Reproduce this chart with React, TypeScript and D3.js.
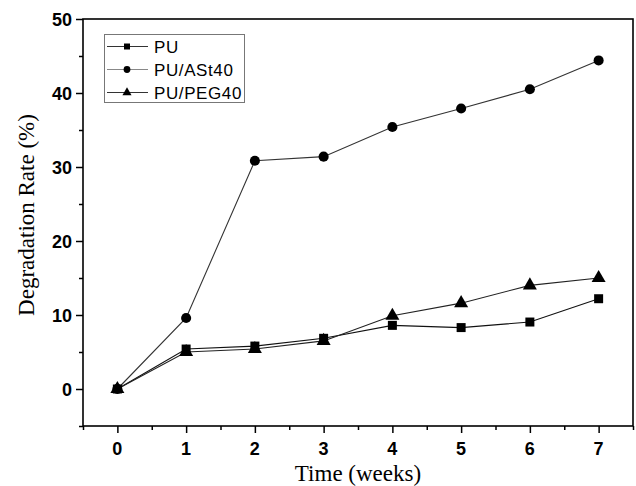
import React, { useEffect, useRef } from 'react';
import * as d3 from 'd3';

// data
const weeks = [0, 1, 2, 3, 4, 5, 6, 7];
const puValues = [0, 5.4, 5.8, 6.85, 8.6, 8.3, 9.05, 12.2];
const astValues = [0, 9.6, 30.85, 31.4, 35.4, 37.9, 40.5, 44.4];
const pegValues = [0, 5.0, 5.4, 6.5, 9.9, 11.6, 14.0, 15.0];
const seriesNames = ['PU', 'PU/ASt40', 'PU/PEG40'];
const xTicks = [0, 1, 2, 3, 4, 5, 6, 7];
const yTicks = [0, 10, 20, 30, 40, 50];

const width = 636;
const height = 486;

export default function App() {
  const svgRef = useRef<SVGSVGElement | null>(null);

  useEffect(() => {
    const svg = d3.select(svgRef.current);
    svg.selectAll('*').remove();

    const left = 83, right = 633, top = 19, bottom = 426;
    const x = d3.scaleLinear().domain([-0.5, 7.5]).range([left, right]);
    const y = d3.scaleLinear().domain([-5, 50]).range([bottom, top]);

    // frame
    svg.append('rect')
      .attr('x', left).attr('y', top)
      .attr('width', right - left).attr('height', bottom - top)
      .attr('fill', 'none').attr('stroke', '#000').attr('stroke-width', 1.6);

    // x axis ticks (major + minor)
    const xAxis = d3.axisBottom(x)
      .tickValues(d3.range(-0.5, 7.51, 0.5))
      .tickSize(0)
      .tickFormat(() => '');
    const gx = svg.append('g').attr('transform', `translate(0,${bottom})`).call(xAxis);
    gx.select('.domain').remove();
    gx.selectAll('.tick line')
      .attr('y2', (d: any) => (Number.isInteger(d) ? 7 : 4))
      .attr('stroke-width', 1.5);
    svg.append('g').selectAll('text').data(xTicks).join('text')
      .attr('x', d => x(d)).attr('y', 455)
      .attr('text-anchor', 'middle')
      .attr('font-family', 'Liberation Sans, Arial, sans-serif')
      .attr('font-weight', 'bold').attr('font-size', 18)
      .text(d => d);

    // y axis ticks (major + minor)
    const yAxis = d3.axisLeft(y)
      .tickValues(d3.range(-5, 50.1, 5))
      .tickSize(0)
      .tickFormat(() => '');
    const gy = svg.append('g').attr('transform', `translate(${left},0)`).call(yAxis);
    gy.select('.domain').remove();
    gy.selectAll('.tick line')
      .attr('x2', (d: any) => (d % 10 === 0 ? -7 : -4))
      .attr('stroke-width', 1.5);
    svg.append('g').selectAll('text').data(yTicks).join('text')
      .attr('x', 72).attr('y', d => y(d) + 6.5)
      .attr('text-anchor', 'end')
      .attr('font-family', 'Liberation Sans, Arial, sans-serif')
      .attr('font-weight', 'bold').attr('font-size', 18)
      .text(d => d);

    // titles
    svg.append('text')
      .attr('x', (left + right) / 2).attr('y', 481)
      .attr('text-anchor', 'middle')
      .attr('font-family', 'Liberation Serif, Times New Roman, serif')
      .attr('font-size', 23)
      .text('Time (weeks)');
    svg.append('text')
      .attr('transform', `translate(34,215) rotate(-90)`)
      .attr('text-anchor', 'middle')
      .attr('font-family', 'Liberation Serif, Times New Roman, serif')
      .attr('font-size', 23)
      .text('Degradation Rate (%)');

    const line = d3.line<number>()
      .x((_, i) => x(weeks[i]))
      .y(d => y(d));

    const allSeries = [
      { name: seriesNames[0], values: puValues, shape: d3.symbolSquare, size: 81, color: '#111' },
      { name: seriesNames[1], values: astValues, shape: d3.symbolCircle, size: 80, color: '#333' },
      { name: seriesNames[2], values: pegValues, shape: d3.symbolTriangle, size: 85, color: '#222' },
    ];

    allSeries.forEach(s => {
      svg.append('path')
        .attr('d', line(s.values))
        .attr('fill', 'none')
        .attr('stroke', s.color)
        .attr('stroke-width', 1.1);
    });
    allSeries.forEach(s => {
      svg.append('g').selectAll('path').data(s.values).join('path')
        .attr('transform', (d, i) => `translate(${x(weeks[i])},${y(d)})`)
        .attr('d', d3.symbol(s.shape, s.size)())
        .attr('fill', '#000');
    });

    // legend
    const lg = svg.append('g');
    lg.append('rect')
      .attr('x', 104.5).attr('y', 34.5).attr('width', 140).attr('height', 68)
      .attr('fill', '#fff').attr('stroke', '#777').attr('stroke-width', 1);
    allSeries.forEach((s, i) => {
      const ly = 46.5 + i * 23;
      lg.append('line')
        .attr('x1', 107).attr('x2', 148).attr('y1', ly).attr('y2', ly)
        .attr('stroke', i === 1 ? '#888' : '#333').attr('stroke-width', 1);
      lg.append('path')
        .attr('transform', `translate(127,${ly})`)
        .attr('d', d3.symbol(s.shape, 36)())
        .attr('fill', '#000');
      lg.append('text')
        .attr('x', 154).attr('y', ly + 6)
        .attr('font-family', 'Liberation Sans, Arial, sans-serif')
        .attr('font-size', 17)
        .attr('letter-spacing', 0.6)
        .text(s.name);
    });
  }, []);

  return (
    <svg ref={svgRef} width={width} height={height}
      style={{ position: 'absolute', left: 0, top: 0, background: '#fff' }} />
  );
}
